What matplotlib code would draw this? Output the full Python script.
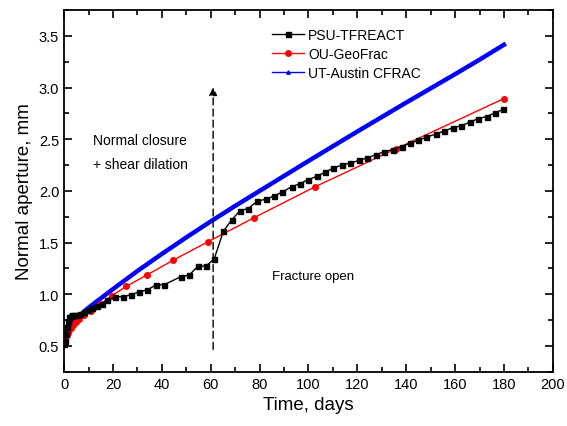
import matplotlib
matplotlib.use('Agg')
import matplotlib.pyplot as plt
from matplotlib.ticker import MultipleLocator

plt.rcParams['font.family'] = ['Liberation Sans', 'DejaVu Sans']

# PSU-TFREACT
psu_t = [0, 0.3, 0.7, 1.2, 1.7, 2.2, 2.8, 3.4, 4.2, 5.2,
         6.5, 8.0, 9.7, 11.5, 13.5, 15.5, 17.6, 20.9, 24.0, 27.3,
         30.8, 34.1, 37.6, 41.0, 47.7, 51.2, 54.7, 58.1, 61.4, 65.2,
         68.6, 72.0, 75.4, 79.0, 82.5, 85.9, 89.3, 93.1, 96.5, 99.9,
         103.3, 106.7, 110.1, 113.6, 117.0, 120.7, 124.0, 127.6, 131.0, 134.4,
         138.1, 141.5, 144.9, 148.3, 152.0, 155.5, 159.0, 162.4, 166.0, 169.5,
         172.9, 176.3, 179.7]
psu_w = [0.52, 0.55, 0.62, 0.68, 0.74, 0.78, 0.79, 0.80, 0.80, 0.80,
         0.81, 0.83, 0.85, 0.87, 0.89, 0.91, 0.94, 0.976, 0.976, 0.995,
         1.024, 1.043, 1.09, 1.092, 1.17, 1.185, 1.27, 1.275, 1.34, 1.61,
         1.72, 1.81, 1.83, 1.90, 1.92, 1.95, 1.99, 2.04, 2.07, 2.11,
         2.14, 2.18, 2.22, 2.25, 2.27, 2.295, 2.32, 2.35, 2.38, 2.40,
         2.43, 2.46, 2.49, 2.52, 2.55, 2.58, 2.61, 2.63, 2.665, 2.70,
         2.72, 2.755, 2.79]

# OU-GeoFrac
ou_t = [0, 0.5, 0.9, 1.2, 1.5, 2.0, 2.7, 3.5, 4.7, 6.1, 8.3, 10.9, 14.7,
        19.5, 25.4, 33.8, 44.4, 58.8, 77.8, 102.7, 136.0, 180.0]
ou_w = [0.57, 0.59, 0.60, 0.61, 0.63, 0.65, 0.67, 0.70, 0.73, 0.76, 0.80, 0.84, 0.902,
        0.986, 1.076, 1.185, 1.327, 1.507, 1.742, 2.04, 2.41, 2.894]

# UT-Austin CFRAC
ut_t = [0, 1, 2, 4, 6, 8, 10, 15, 20, 30, 40, 50, 60, 70, 80, 90, 100,
        120, 140, 160, 170, 180]
ut_w = [0.55, 0.63, 0.67, 0.735, 0.785, 0.83, 0.87, 0.96, 1.05, 1.225, 1.39, 1.55,
        1.705, 1.855, 2.00, 2.145, 2.29, 2.575, 2.855, 3.13, 3.27, 3.415]

fig = plt.figure(figsize=(5.67, 4.27), dpi=100)
ax = fig.add_axes([0.113, 0.127, 0.862, 0.847])

ax.plot(ut_t, ut_w, color='#0000ff', lw=3.2, zorder=2)
ax.plot(ou_t, ou_w, color='#ff0000', lw=1.0, marker='o', ms=4, zorder=3)
ax.plot(psu_t, psu_w, color='black', lw=1.0, marker='s', ms=3.6, zorder=4)

# legend handles (thin lines with markers)
h1, = ax.plot([], [], color='black', lw=1.0, marker='s', ms=3.6)
h2, = ax.plot([], [], color='#ff0000', lw=1.0, marker='o', ms=4)
h3, = ax.plot([], [], color='#0000ff', lw=1.0, marker='^', ms=2.5)
ax.legend([h1, h2, h3], ['PSU-TFREACT', 'OU-GeoFrac', 'UT-Austin CFRAC'],
          loc='upper left', bbox_to_anchor=(0.40, 0.985), frameon=False,
          fontsize=10, handlelength=2.3, handletextpad=0.3, labelspacing=0.35)

ax.annotate('', xy=(61, 3.03), xytext=(61, 0.44),
            arrowprops=dict(arrowstyle='-|>', color='black', lw=1.0,
                            linestyle=(0, (5, 3)), mutation_scale=12))
ax.text(12, 2.49, 'Normal closure', fontsize=10, va='center')
ax.text(12, 2.26, '+ shear dilation', fontsize=10, va='center')
ax.text(85, 1.18, 'Fracture open', fontsize=9.5, va='center')

ax.set_xlim(0, 200)
ax.set_ylim(0.25, 3.75)
ax.xaxis.set_major_locator(MultipleLocator(20))
ax.xaxis.set_minor_locator(MultipleLocator(10))
ax.yaxis.set_major_locator(MultipleLocator(0.5))
ax.yaxis.set_minor_locator(MultipleLocator(0.25))
ax.tick_params(which='both', direction='in', top=True, right=True, labelsize=10.5, width=1.2)
ax.tick_params(which='major', length=6)
ax.tick_params(which='minor', length=3.5)
for s in ax.spines.values():
    s.set_linewidth(1.3)

ax.set_xlabel('Time, days', fontsize=13.5)
ax.set_ylabel('Normal aperture, mm', fontsize=13.5)

fig.savefig('out.png', dpi=100)
